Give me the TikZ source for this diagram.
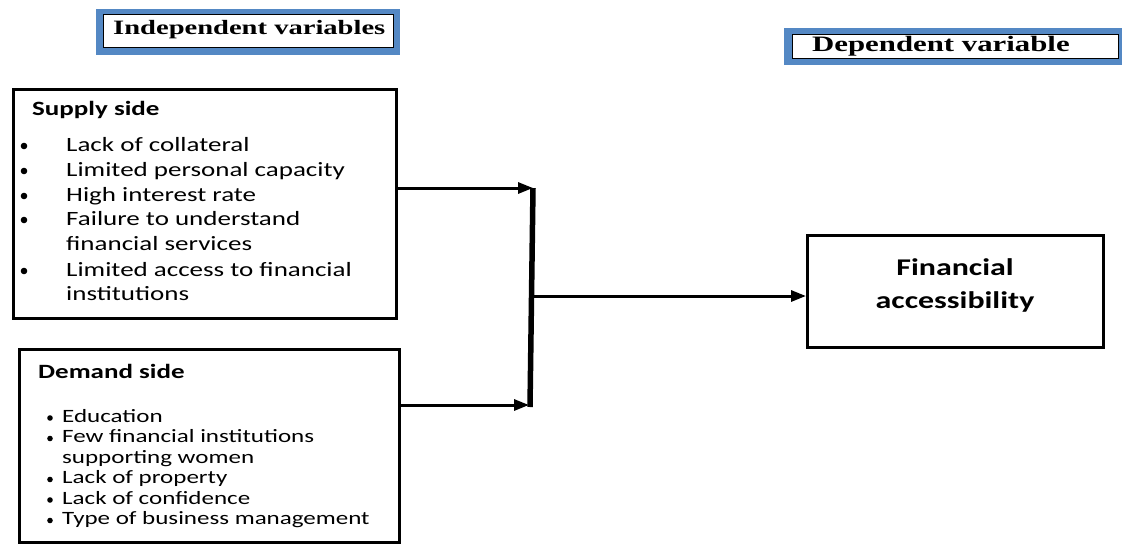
\documentclass[tikz,border=0pt]{standalone}
\usepackage{fontspec}
\newfontfamily\bodyfont[FakeStretch=1.33]{Carlito}
\newfontfamily\headfont[FakeStretch=1.4]{Liberation Serif}
\usetikzlibrary{arrows.meta,positioning}
\definecolor{hdrblue}{RGB}{84,136,196}
\tikzset{
  box/.style={draw=black,line width=2.8pt,fill=white,inner sep=0pt},
  hdrbox/.style={draw=black,line width=1.3pt,fill=white,inner sep=0pt},
  itemtxt/.style={anchor=base west,inner sep=0pt,font=\bodyfont\fontsize{20.3}{23}\selectfont},
  ditemtxt/.style={anchor=base west,inner sep=0pt,font=\bodyfont\fontsize{18.8}{21}\selectfont},
  sidehead/.style={anchor=base west,inner sep=0pt,font=\bodyfont\bfseries\fontsize{20.3}{23}\selectfont},
  conn/.style={line width=3pt,-{Triangle[length=15pt,width=11pt]}},
}
\begin{document}
\begin{tikzpicture}[x=1pt,y=-1pt]
		\useasboundingbox (0,0) rectangle (1122,544);
		%headers
		\fill[hdrblue] (96,9) rectangle (400,55);
		\node[hdrbox,minimum width=290,minimum height=33,anchor=north west] (indep) at (103,14) {};
		\node[anchor=west,inner sep=0pt,font=\headfont\bfseries\fontsize{20.4}{24}\selectfont] (indeptxt) at (113,30) {Independent variables};
		\fill[hdrblue] (784,28) rectangle (1130,65);
		\node[hdrbox,minimum width=326,minimum height=24,anchor=north west] (dep) at (792,34) {};
		\node[anchor=west,inner sep=0pt,font=\headfont\bfseries\fontsize{22}{24}\selectfont] (deptxt) at (812,46) {Dependent variable};
		%boxes
		\node[box,minimum width=383,minimum height=229,anchor=north west] (supply) at (12,88) {};
		\node[box,minimum width=380,minimum height=193,anchor=north west] (demand) at (18,348) {};
		\node[box,minimum width=296,minimum height=112,anchor=north west] (fin) at (806,234) {};
		%supply side
		\node[sidehead] (shead) at (32,115) {Supply side};
		\foreach \y/\t [count=\i] in {151/Lack of collateral,176/Limited personal capacity,201/High interest rate,225/Failure to understand,250/financial services,276/Limited access to financial,300/institutions}
		\node[itemtxt] (s\i) at (66,\y) {\t};
		\foreach \y in {146,171,196,220,271}
		\fill (24,\y) circle[radius=3.3];
		%demand side
		\node[sidehead] (dhead) at (38,378) {Demand side};
		\foreach \y/\t [count=\i] in {422/Education,442.5/Few financial institutions,463/supporting women,483.5/Lack of property,504/Lack of confidence,524.5/Type of business management}
		\node[ditemtxt] (d\i) at (62,\y) {\t};
		\foreach \y in {418,438.5,479.5,500,520.5}
		\fill (50,\y) circle[radius=2.8];
		%result
		\node[align=center,inner sep=0pt,font=\bodyfont\bfseries\fontsize{24}{33}\selectfont] (fintxt) at (955,285) {Financial\\accessibility};
		%connectors
		\coordinate (jtop) at (533,188);
		\coordinate (jbot) at (530,407);
		\coordinate (jarr) at (529,405);
		\coordinate (jmid) at (532,296);
		\draw[conn] (supply.east |- jtop) -- (jtop);
		\draw[conn] (demand.east |- jarr) -- (jarr);
		\draw[line width=5.5pt] (jtop) -- (jbot);
		\draw[conn] (jmid) -- (jmid -| fin.west);
	\end{tikzpicture}
\end{document}
